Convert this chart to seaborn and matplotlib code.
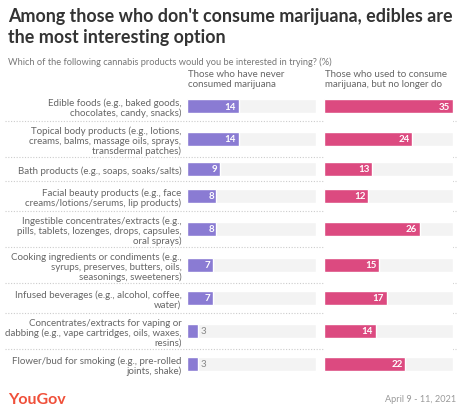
import numpy as np
import pandas as pd
import matplotlib.pyplot as plt
import seaborn as sns
from matplotlib.transforms import blended_transform_factory

products = [
    "Edible foods (e.g., baked goods,\nchocolates, candy, snacks)",
    "Topical body products (e.g., lotions,\ncreams, balms, massage oils, sprays,\ntransdermal patches)",
    "Bath products (e.g., soaps, soaks/salts)",
    "Facial beauty products (e.g., face\ncreams/lotions/serums, lip products)",
    "Ingestible concentrates/extracts (e.g.,\npills, tablets, lozenges, drops, capsules,\noral sprays)",
    "Cooking ingredients or condiments (e.g.,\nsyrups, preserves, butters, oils,\nseasonings, sweeteners)",
    "Infused beverages (e.g., alcohol, coffee,\nwater)",
    "Concentrates/extracts for vaping or\ndabbing (e.g., vape cartridges, oils, waxes,\nresins)",
    "Flower/bud for smoking (e.g., pre-rolled\njoints, shake)",
]
never = [14, 14, 9, 8, 8, 7, 7, 3, 3]
former = [35, 24, 13, 12, 26, 15, 17, 14, 22]
headers = ["Those who have never\nconsumed marijuana",
           "Those who used to consume\nmarijuana, but no longer do"]
colors = ["#8a7bd3", "#dc4a80"]
xmax = 35

sns.set_style("white")
plt.rcParams['font.family'] = ['Lato', 'DejaVu Sans']

# row heights depend on how many lines the label wraps to
row_h = {1: 24, 2: 30, 3: 36}
heights = [row_h[p.count("\n") + 1] for p in products]
edges = np.concatenate([[0], np.cumsum(heights)])
pos = (edges[:-1] + edges[1:]) / 2

df = pd.DataFrame({"product": products, "pos": pos, "never": never,
                   "former": former, "full": [xmax] * len(products)})

bar_px = 14
native_w = np.min(np.diff(pos))
fig = plt.figure(figsize=(4.64, 4.14), dpi=100)
top_px = 107 - pos[0]
bot_px = top_px + edges[-1]
bottom, height = 1 - bot_px / 414, edges[-1] / 414
axes = [fig.add_axes([187 / 464, bottom, 129 / 464, height]),
        fig.add_axes([324 / 464, bottom, 129 / 464, height])]

for ax, col, color, head in zip(axes, ["never", "former"], colors, headers):
    sns.barplot(data=df, x="full", y="pos", color="#f3f3f3",
                width=bar_px / native_w, ax=ax, orient="h", native_scale=True,
                saturation=1)
    sns.barplot(data=df, x=col, y="pos", color=color,
                width=bar_px / native_w, ax=ax, orient="h", native_scale=True,
                saturation=1)
    ax.set_xlim(0, xmax)
    ax.set_ylim(edges[-1], 0)
    ax.set_xlabel("")
    ax.set_ylabel("")
    ax.set_xticks([])
    sns.despine(ax=ax, left=True, bottom=True)
    for p, v in zip(df["pos"], df[col]):
        if v >= 5:
            ax.text(v - 0.7, p, str(v), ha="right", va="center", color="white",
                    fontsize=7, fontweight="bold")
        else:
            ax.text(v + 0.8, p, str(v), ha="left", va="center", color="#888888",
                    fontsize=7)
    ax.text(0.01, 1.01, head, transform=ax.transAxes, ha="left", va="bottom",
            fontsize=7, color="#666666", linespacing=1.1)

axes[1].set_yticks([])
axes[0].set_yticks(pos)
axes[0].set_yticklabels(products)
axes[0].tick_params(axis="y", length=0, pad=4)
for lab in axes[0].get_yticklabels():
    lab.set_fontsize(7)
    lab.set_color("#666666")
    lab.set_linespacing(1.1)

# dotted separators between rows
tr = blended_transform_factory(fig.transFigure, axes[0].transData)
for e in edges[1:-1]:
    axes[0].plot([5 / 464, 456 / 464], [e, e], transform=tr,
                 color="#cccccc", linestyle=(0, (1, 1.5)), linewidth=0.8,
                 clip_on=False)

fig.text(8 / 464, 1 - 8 / 414,
         "Among those who don't consume marijuana, edibles are\nthe most interesting option",
         ha="left", va="top", fontsize=12.9, fontweight="bold", color="#333333",
         linespacing=1.3)
fig.text(8 / 464, 1 - 62 / 414,
         "Which of the following cannabis products would you be interested in trying? (%)",
         ha="left", va="center", fontsize=6.7, color="#777777")
fig.text(8 / 464, 1 - 400 / 414, "YouGov", ha="left", va="center",
         fontsize=11.5, fontweight="bold", color="#f0503a")
fig.text(456 / 464, 1 - 400 / 414, "April 9 - 11, 2021", ha="right", va="center",
         fontsize=6.6, color="#999999")

fig.savefig("out.png", dpi=100, facecolor="white")
